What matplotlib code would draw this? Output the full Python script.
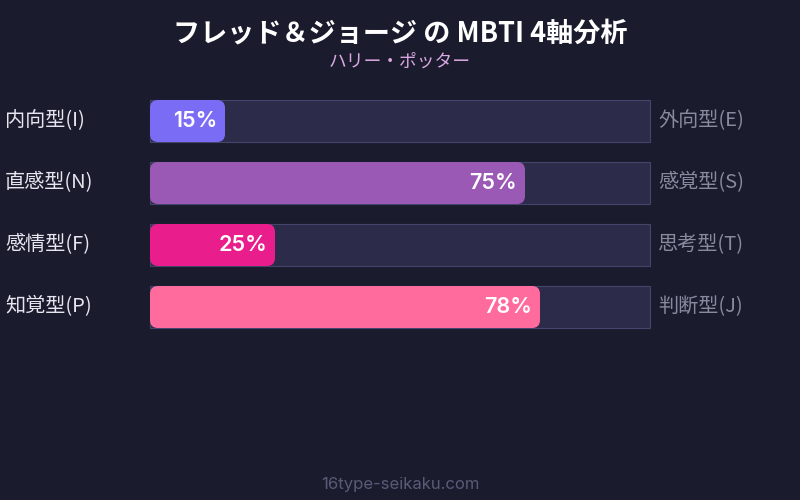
import matplotlib
matplotlib.use("Agg")
import matplotlib.pyplot as plt
from matplotlib.patches import FancyBboxPatch, Rectangle

plt.rcParams['font.family'] = ['Noto Sans CJK JP', 'DejaVu Sans']

title = "フレッド＆ジョージ の MBTI 4軸分析"
subtitle = "ハリー・ポッター"
footer = "16type-seikaku.com"
left_labels = ["内向型(I)", "直感型(N)", "感情型(F)", "知覚型(P)"]
right_labels = ["外向型(E)", "感覚型(S)", "思考型(T)", "判断型(J)"]
values = [15, 75, 25, 78]
colors = ["#7b6cf6", "#9b59b6", "#e91e8c", "#ff6b9d"]

BG = "#1b1b2e"
W, H = 800, 500
fig = plt.figure(figsize=(W / 100, H / 100), dpi=100, facecolor=BG)

# bar axes region in pixels
x0, x1 = 150, 650
y_top, y_bot = 100, 328
row = 62
bh = 42 / row
ax = fig.add_axes([x0 / W, 1 - y_bot / H, (x1 - x0) / W, (y_bot - y_top) / H])
ax.set_facecolor("none")
ax.set_xlim(0, 100)
ax.set_ylim(len(values) - 1 + bh / 2, -bh / 2)
ax.axis("off")

px_x = (x1 - x0) / 100  # px per x unit
aspect = (1 / row) / (1 / px_x)

for i, (v, c) in enumerate(zip(values, colors)):
    ax.add_patch(Rectangle((0, i - bh / 2), 100, bh, facecolor="#2d2b4a",
                           edgecolor="#45446a", linewidth=0.8, clip_on=False))
    ax.add_patch(FancyBboxPatch((0, i - bh / 2), v, bh,
                                boxstyle=f"round,pad=0,rounding_size={8 / px_x}",
                                mutation_aspect=aspect, facecolor=c,
                                edgecolor="none", clip_on=False))
    ax.text(v - 8 / px_x, i, f"{v}%", ha="right", va="center", color="white",
            fontsize=15.5, fontweight="semibold", family=["Inter", "DejaVu Sans"])
    ax.text(-145 / px_x, i, left_labels[i], ha="left", va="center",
            color="#e6e6ee", fontsize=14.5)
    ax.text(100 + 8 / px_x, i, right_labels[i], ha="left", va="center",
            color="#8a8a9e", fontsize=14.5)

fig.text(0.5, 1 - 33 / H, title, ha="center", va="center", color="white",
         fontsize=19.5, fontweight="bold")
fig.text(0.5, 1 - 62 / H, subtitle, ha="center", va="center", color="#d9a8e0",
         fontsize=12.8)
fig.text(0.5, 1 - 484 / H, footer, ha="center", va="center", color="#5a5a78",
         fontsize=12, family=["Inter", "DejaVu Sans"])

fig.savefig("out.png", dpi=100, facecolor=BG)
